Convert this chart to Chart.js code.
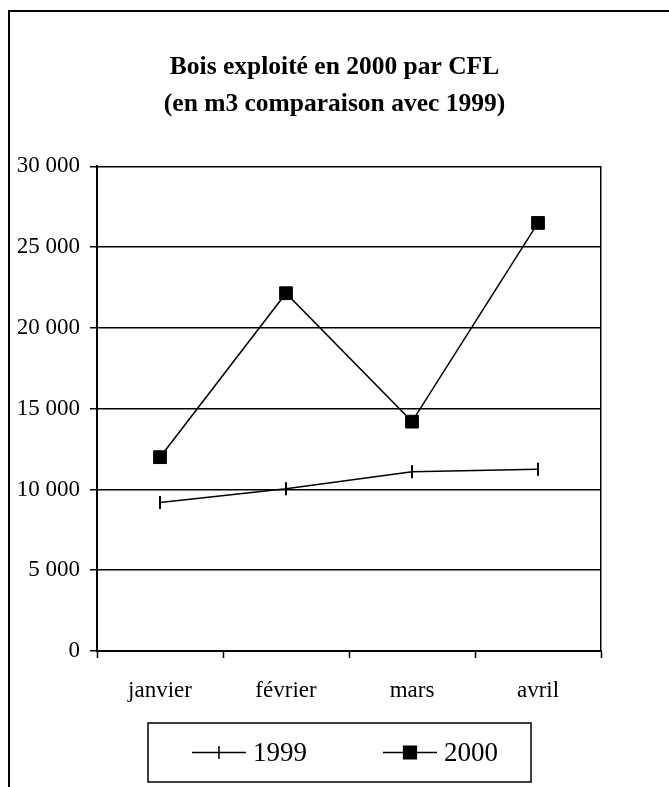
<!DOCTYPE html>
<html>
<head>
<meta charset="utf-8">
<script src="https://cdn.jsdelivr.net/npm/chart.js@4/dist/chart.umd.min.js"></script>
<style>
  html, body { margin: 0; padding: 0; background: #ffffff; }
  #wrap { width: 669px; height: 787px; }
</style>
</head>
<body>
<div id="wrap"><canvas id="c" width="669" height="787"></canvas></div>
<script>
const titleLines = ["Bois exploité en 2000 par CFL", "(en m3 comparaison avec 1999)"];
const categories = ["janvier", "février", "mars", "avril"];
const seriesNames = ["1999", "2000"];
const values1999 = [9200, 10050, 11100, 11250];
const values2000 = [12000, 22150, 14200, 26500];
const yTickValues = [0, 5000, 10000, 15000, 20000, 25000, 30000];
const yTickLabels = ["0", "5 000", "10 000", "15 000", "20 000", "25 000", "30 000"];

const FONT = "'Liberation Serif', 'Times New Roman', serif";

const background = {
  id: 'background',
  beforeDraw(chart) {
    const ctx = chart.ctx;
    ctx.save();
    ctx.fillStyle = '#ffffff';
    ctx.fillRect(0, 0, chart.width, chart.height);
    ctx.restore();
  }
};

const frame = {
  id: 'frame',
  afterDraw(chart) {
    const ctx = chart.ctx;
    ctx.save();
    ctx.strokeStyle = '#000';
    ctx.lineWidth = 2;
    ctx.strokeRect(9, 11, chart.width + 20, chart.height + 20);
    ctx.restore();
  }
};

const boxLegend = {
  id: 'boxLegend',
  afterDraw(chart) {
    const ctx = chart.ctx;
    const bx = 148, by = 723, bw = 383, bh = 59;
    ctx.save();
    ctx.strokeStyle = '#000';
    ctx.lineWidth = 1.5;
    ctx.strokeRect(bx, by, bw, bh);
    const cy = by + bh / 2;
    const starts = [192, 383];
    chart.data.datasets.forEach((ds, i) => {
      const x0 = starts[i];
      ctx.strokeStyle = ds.borderColor;
      ctx.lineWidth = ds.borderWidth;
      ctx.beginPath();
      ctx.moveTo(x0, cy);
      ctx.lineTo(x0 + 54, cy);
      ctx.stroke();
      ctx.fillStyle = ds.pointBackgroundColor;
      ctx.strokeStyle = ds.pointBorderColor;
      Chart.helpers.drawPoint(ctx, {
        pointStyle: ds.pointStyle,
        rotation: ds.pointRotation || 0,
        radius: ds.pointRadius,
        borderWidth: ds.pointBorderWidth
      }, x0 + 27, cy);
      ctx.fillStyle = '#000';
      ctx.font = "27px " + FONT;
      ctx.textAlign = 'left';
      ctx.textBaseline = 'middle';
      ctx.fillText(ds.label, x0 + 61, cy + 1);
    });
    ctx.restore();
  }
};

new Chart(document.getElementById('c'), {
  type: 'line',
  data: {
    labels: categories,
    datasets: [
      {
        label: seriesNames[0],
        data: values1999,
        borderColor: '#000',
        backgroundColor: '#000',
        borderWidth: 1.5,
        pointStyle: 'line',
        pointRotation: 90,
        pointRadius: 6.5,
        pointBorderWidth: 2,
        pointBorderColor: '#000',
        pointBackgroundColor: '#000',
        tension: 0
      },
      {
        label: seriesNames[1],
        data: values2000,
        borderColor: '#000',
        backgroundColor: '#000',
        borderWidth: 1.5,
        pointStyle: 'rect',
        pointRadius: 9,
        pointBorderWidth: 1,
        pointBorderColor: '#000',
        pointBackgroundColor: '#000',
        tension: 0
      }
    ]
  },
  options: {
    responsive: false,
    animation: false,
    events: [],
    layout: { padding: 0 },
    plugins: {
      legend: { display: false },
      tooltip: { enabled: false },
      title: {
        display: true,
        text: titleLines,
        color: '#000',
        font: { family: FONT, size: 25.5, weight: 'bold', lineHeight: 1.44 },
        padding: { top: 49.5, bottom: 43.5 }
      }
    },
    scales: {
      x: {
        offset: true,
        grid: {
          offset: true,
          drawOnChartArea: false,
          drawTicks: true,
          tickLength: 7,
          tickWidth: 1.5,
          tickColor: '#000',
          color: '#000'
        },
        border: { display: true, color: '#000', width: 2 },
        ticks: {
          color: '#000',
          font: { family: FONT, size: 23 },
          padding: 19,
          maxRotation: 0,
          autoSkip: false
        },
        afterFit(scale) { scale.height = 136; }
      },
      y: {
        min: 0,
        max: 30000,
        afterBuildTicks(scale) { scale.ticks = yTickValues.map(v => ({ value: v })); },
        grid: {
          color: '#000',
          lineWidth: 1.5,
          drawTicks: true,
          tickLength: 7,
          tickColor: '#000',
          tickWidth: 1.5
        },
        border: { display: true, color: '#000', width: 2 },
        ticks: {
          color: '#000',
          font: { family: FONT, size: 23 },
          padding: 10,
          callback(value) {
            const i = yTickValues.indexOf(value);
            return i >= 0 ? yTickLabels[i] : '';
          }
        },
        afterFit(scale) { scale.width = 97; }
      },
      yRight: {
        position: 'right',
        min: 0,
        max: 30000,
        grid: { drawOnChartArea: false, drawTicks: false },
        border: { display: true, color: '#000', width: 1.5 },
        ticks: { display: false },
        afterFit(scale) { scale.width = 68; }
      }
    }
  },
  plugins: [background, frame, boxLegend]
});
</script>
</body>
</html>
